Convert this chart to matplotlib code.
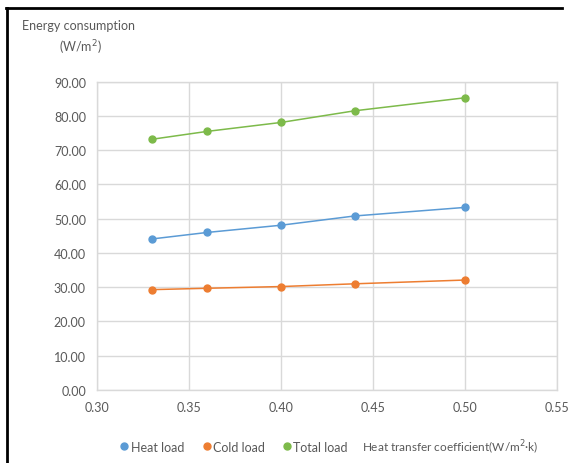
import matplotlib.pyplot as plt
from matplotlib.lines import Line2D

plt.rcParams['font.family'] = ['Lato', 'DejaVu Sans']

# heat transfer coefficient (W/m2·k) and loads (W/m2)
coeff = [0.33, 0.36, 0.40, 0.44, 0.50]
heat_load = [44.1, 46.0, 48.1, 50.8, 53.3]
cold_load = [29.3, 29.7, 30.2, 31.0, 32.1]
total_load = [73.2, 75.5, 78.1, 81.5, 85.3]

series_names = ['Heat load', 'Cold load', 'Total load']
colors = ['#5B9BD5', '#ED7D31', '#7DBA4A']
x_ticks = [0.30, 0.35, 0.40, 0.45, 0.50, 0.55]
y_ticks = [0, 10, 20, 30, 40, 50, 60, 70, 80, 90]

text_gray = '#595959'
grid_gray = '#D9D9D9'

fig = plt.figure(figsize=(5.72, 4.64), dpi=100)
ax = fig.add_axes([0.1696, 0.1573, 0.804, 0.6645])

for vals, name, c in zip([heat_load, cold_load, total_load], series_names, colors):
    ax.plot(coeff, vals, color=c, lw=1.1, marker='o', ms=5, label=name, zorder=3)

ax.set_xlim(0.30, 0.55)
ax.set_ylim(0, 90)
ax.set_xticks(x_ticks)
ax.set_xticklabels([f'{v:.2f}' for v in x_ticks])
ax.set_yticks(y_ticks)
ax.set_yticklabels([f'{v:.2f}' for v in y_ticks])
ax.grid(True, color=grid_gray, lw=1)
ax.set_axisbelow(True)
ax.tick_params(length=0, labelsize=9, labelcolor=text_gray, pad=8)
for sp in ax.spines.values():
    sp.set_color(grid_gray)
    sp.set_linewidth(1)

fig.text(0.0385, 0.945, 'Energy consumption', fontsize=9, color=text_gray, va='center')
fig.text(0.14, 0.897, '(W/m$^2$)', fontsize=9, color=text_gray, va='center', ha='center')

handles = [Line2D([], [], ls='none', marker='o', ms=5, color=c) for c in colors]
fig.legend(handles, series_names, loc='center left', bbox_to_anchor=(0.211, 0.035),
           ncol=3, frameon=False, fontsize=9, handlelength=0.6, handletextpad=0.2,
           columnspacing=1.5, labelcolor=text_gray, borderaxespad=0, borderpad=0)
fig.text(0.632, 0.035, 'Heat transfer coefficient(W/m$^2$·k)', fontsize=8.5,
         color=text_gray, va='center')

# outer frame: left and top edges only
fig.add_artist(Line2D([0.0122, 0.0122], [0.0, 0.981], transform=fig.transFigure,
                      color='black', lw=2))
fig.add_artist(Line2D([0.0105, 0.983], [0.981, 0.981], transform=fig.transFigure,
                      color='black', lw=2))

fig.savefig('out.png', dpi=100)
